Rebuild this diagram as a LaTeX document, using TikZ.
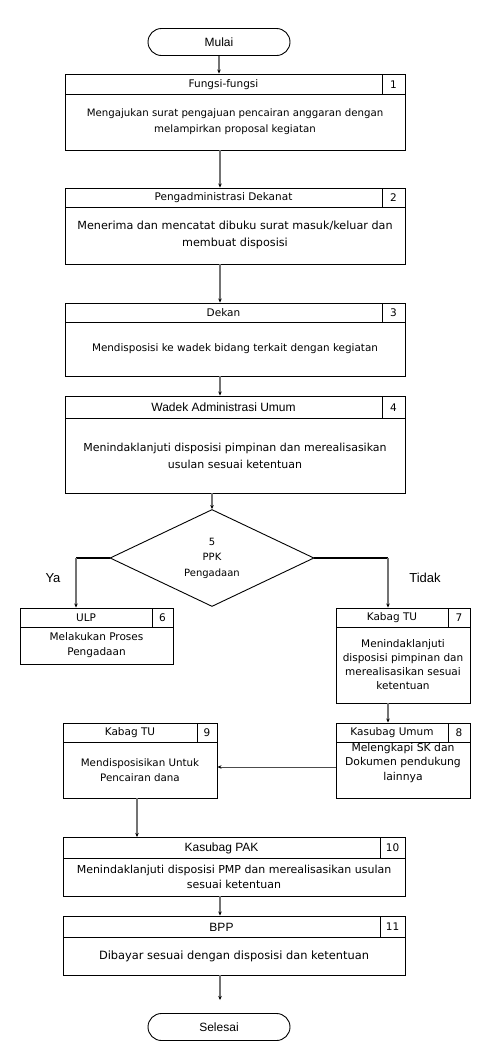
\documentclass[tikz,border=0pt]{standalone}
\usepackage{fontspec}
\setmainfont{DejaVu Sans}
\newfontfamily\arialf{Liberation Sans}
\usetikzlibrary{arrows.meta,shapes.geometric,shapes.misc,fit}
\newcommand\hf{\fontsize{10.5}{12}\selectfont}
\newcommand\af{\arialf\fontsize{12}{14}\selectfont}
\newcommand\bsz[2]{\fontsize{#1}{#2}\selectfont}
\tikzset{
  frame/.style={draw=black, line width=0.9pt, inner sep=0pt},
  num/.style={font=\fontsize{10.5}{12}\selectfont, inner sep=0pt},
  bodytxt/.style={align=center, inner sep=0pt},
  conn/.style={draw=black!55, line width=1.3pt, -{Stealth[length=4pt,width=3.5pt,black]}},
  bar/.style={draw=black, line width=2pt},
  term/.style={draw=black, line width=0.9pt, rounded rectangle, minimum width=142pt, minimum height=27pt, inner sep=0pt, font=\arialf\fontsize{12}{13}\selectfont},
  dec/.style={draw=black, line width=0.9pt, diamond, minimum width=204pt, minimum height=97pt, inner sep=0pt, align=center, font=\fontsize{10}{15.5}\selectfont},
  lbl/.style={font=\arialf\fontsize{13}{15}\selectfont, inner sep=0pt}
}
% name, x1, y1, x2, y2, yh, xn, title, number
\newcommand\procbox[9]{%
  \node[frame, fit={(#2,#3) (#4,#5)}] (#1) {};
  \draw[line width=0.9pt] (#2,#6) -- (#4,#6);
  \draw[line width=0.9pt] (#7,#3) -- (#7,#6);
  \node[inner sep=0pt] at ({(#2+#7)/2},{(#3+#6)/2+0.5}) (#1-t) {#8};
  \node[num] at ({(#7+#4)/2},{(#3+#6)/2+0.5}) (#1-n) {#9};
  \coordinate (#1-c) at ({(#2+#4)/2},{(#6+#5)/2});
}
\begin{document}
\begin{tikzpicture}[x=1pt,y=-1pt]
\useasboundingbox[fill=white] (0,0) rectangle (493,1053);

\node[term] (start) at (219,42) {Mulai};

\procbox{b1}{65}{74}{405}{150}{94}{382}{\hf Fungsi-fungsi}{1}
\node[bodytxt, font=\bsz{10.2}{16}] (b1-b) at (b1-c) {Mengajukan surat pengajuan pencairan anggaran dengan\\melampirkan proposal kegiatan};

\procbox{b2}{65}{188}{405}{264}{207}{382}{\hf Pengadministrasi Dekanat}{2}
\node[bodytxt, font=\bsz{11.2}{17}, yshift=1pt] (b2-b) at (b2-c) {Menerima dan mencatat dibuku surat masuk/keluar dan\\membuat disposisi};

\procbox{b3}{65}{303}{405}{376}{322}{382}{\hf Dekan}{3}
\node[bodytxt, font=\bsz{10.4}{16}, yshift=0pt] (b3-b) at (b3-c) {Mendisposisi ke wadek bidang terkait dengan kegiatan};

\procbox{b4}{65}{396}{405}{493}{418}{382}{\af Wadek Administrasi Umum}{4}
\node[bodytxt, font=\bsz{11}{17}] (b4-b) at (b4-c) {Menindaklanjuti disposisi pimpinan dan merealisasikan\\usulan sesuai ketentuan};

\node[dec] (d5) at (212,558) {5\\PPK\\Pengadaan};

\procbox{b6}{20}{608}{173}{664}{627}{152}{\hf ULP}{6}
\node[bodytxt, font=\bsz{10.5}{15}, yshift=0pt] (b6-b) at (b6-c) {Melakukan Proses\\Pengadaan};

\procbox{b7}{336}{608}{470}{703}{627}{448}{\hf Kabag TU}{7}
\node[bodytxt, font=\bsz{10.5}{14}] (b7-b) at (b7-c) {Menindaklanjuti\\disposisi pimpinan dan\\merealisasikan sesuai\\ketentuan};

\procbox{b8}{336}{723}{470}{798}{742}{448}{\hf Kasubag Umum}{8}
\node[bodytxt, font=\bsz{10.8}{14.5}, yshift=7pt] (b8-b) at (b8-c) {Melengkapi SK dan\\Dokumen pendukung\\lainnya};

\procbox{b9}{63}{723}{217}{798}{742}{197}{\hf Kabag TU}{9}
\node[bodytxt, font=\bsz{10.3}{14.5}, yshift=0pt] (b9-b) at (b9-c) {Mendisposisikan Untuk\\Pencairan dana};

\procbox{b10}{63}{837}{405}{896}{858}{380}{\af Kasubag PAK}{10}
\node[bodytxt, font=\bsz{11}{15.5}] (b10-b) at (b10-c) {Menindaklanjuti disposisi PMP dan merealisasikan usulan\\sesuai ketentuan};

\procbox{b11}{63}{916}{405}{975}{937}{380}{\af BPP}{11}
\node[bodytxt, font=\bsz{11.4}{16}] (b11-b) at (b11-c) {Dibayar sesuai dengan disposisi dan ketentuan};

\node[term] (end) at (219,1027) {Selesai};

% connectors
\draw[conn] (start.south) -- (start.south |- b1.north);
\draw[conn] ([xshift=1pt]start.south |- b1.south) -- ([xshift=1pt]start.south |- b2.north);
\draw[conn] ([xshift=1pt]start.south |- b2.south) -- ([xshift=1pt]start.south |- b3.north);
\draw[conn] ([xshift=1pt]start.south |- b3.south) -- ([xshift=1pt]start.south |- b4.north);
\draw[conn] (d5.north |- b4.south) -- (d5.north);
\coordinate (cl) at (76,558);
\coordinate (cr) at (388,558);
\draw[bar] (d5.west) -- (cl);
\draw[bar] (d5.east) -- (cr);
\draw[conn] (cl) -- (cl |- b6.north);
\draw[conn] (cr) -- (cr |- b7.north);
\draw[conn] (cr |- b7.south) -- (cr |- b8.north);
\draw[conn, draw=black!70, line width=1pt] (b8.west |- 0,767) -- (b9.east |- 0,767);
\draw[conn] (137,798) -- (137,837);
\draw[conn] ([xshift=1pt]start.south |- b10.south) -- ([xshift=1pt]start.south |- b11.north);
\draw[conn] ([xshift=1pt]start.south |- b11.south) -- ([xshift=1pt]start.south |- 0,1000);

\node[lbl] (ya) at (53,578) {Ya};
\node[lbl] (tidak) at (425,578) {Tidak};
\end{tikzpicture}
\end{document}
